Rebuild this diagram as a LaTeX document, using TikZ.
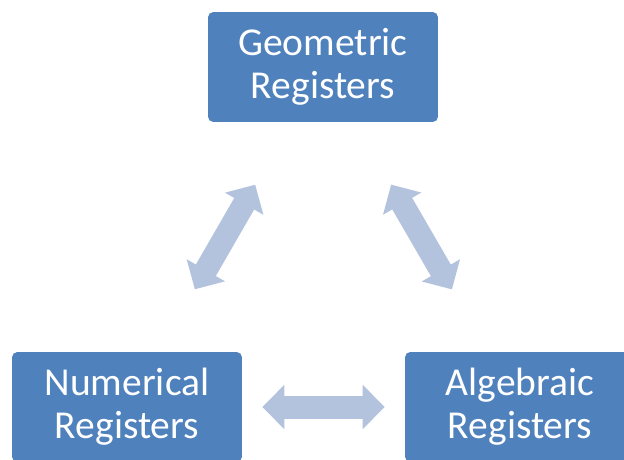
\documentclass[tikz,border=0pt]{standalone}
\usepackage{fontspec}
\setmainfont{Carlito}
\usetikzlibrary{arrows.meta, positioning}
\definecolor{regblue}{HTML}{4F81BD}
\definecolor{linkblue}{HTML}{B3C3DD}

\begin{document}
\begin{tikzpicture}[x=0.02cm, y=-0.02cm,
    reg/.style={fill=regblue, rounded corners=3pt, minimum width=4.6cm, minimum height=2.2cm,
        align=center, text=white, font=\fontsize{22.5}{24.5}\selectfont},
    link/.style={linkblue, line width=0.46cm,
        {Triangle[length=0.44cm, width=0.86cm]}-{Triangle[length=0.44cm, width=0.86cm]}}]
    \useasboundingbox (0,0) rectangle (624,459);
    \clip (0,0) rectangle (624,459);
    % registers
    \node[reg] (geo) at (323,67) {Geometric\\Registers};
    \node[reg] (num) at (127,407) {Numerical\\Registers};
    \node[reg] (alg) at (520,407) {Algebraic\\Registers};

    % two-way links
    \draw[link, shorten <=1.44cm, shorten >=1.44cm] (num) -- (geo);
    \draw[link, shorten <=1.44cm, shorten >=1.44cm] (geo) -- (alg);
    \draw[link, shorten <=0.4cm, shorten >=0.4cm] (num) -- (alg);
\end{tikzpicture}
\end{document}
